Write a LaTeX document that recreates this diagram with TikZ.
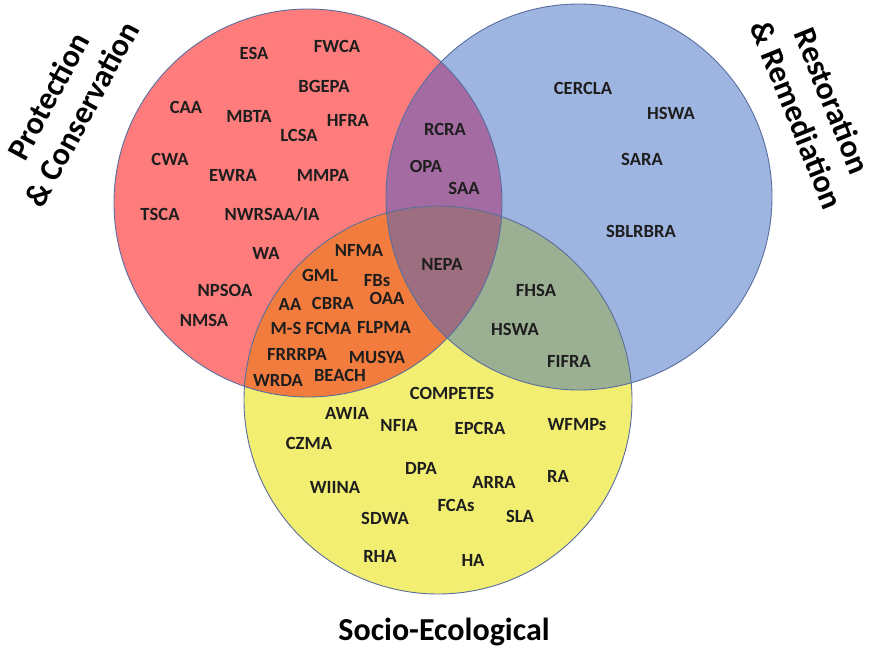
\documentclass[tikz,border=0pt]{standalone}
\usepackage{fontspec}
\setmainfont{Carlito}
\definecolor{cRed}{HTML}{FF7C7C}
\definecolor{cBlue}{HTML}{9DB5E0}
\definecolor{cYel}{HTML}{F2EE72}
\definecolor{cRB}{HTML}{A46BA2}
\definecolor{cRY}{HTML}{F27C3E}
\definecolor{cBY}{HTML}{9BAF93}
\definecolor{cRBY}{HTML}{9C6E80}
\definecolor{cEdge}{HTML}{5A6E9E}
\definecolor{cTxt}{HTML}{1E1E1E}
\begin{document}
\begin{tikzpicture}[x=1pt,y=-1pt,
  lbl/.style={font=\fontsize{18.6}{20}\selectfont\bfseries, text=cTxt, inner sep=0pt, text height=12pt, text depth=0pt},
  ttl/.style={font=\fontsize{32}{38}\selectfont\bfseries, text=black, align=center, inner sep=0pt},
  ring/.style={draw=cEdge, line width=0.9pt}]
\useasboundingbox (0,0) rectangle (871,650);
\coordinate (cR) at (308,203);
\coordinate (cB) at (579,197);
\coordinate (cY) at (438,400);
% base fills
\fill[cRed] (cR) circle[radius=194pt];
\fill[cBlue] (cB) circle[radius=193pt];
\fill[cYel] (cY) circle[radius=194pt];
% pairwise overlaps
\begin{scope}
  \clip (cR) circle[radius=194pt];
  \fill[cRB] (cB) circle[radius=193pt];
  \fill[cRY] (cY) circle[radius=194pt];
\end{scope}
\begin{scope}
  \clip (cB) circle[radius=193pt];
  \fill[cBY] (cY) circle[radius=194pt];
\end{scope}
\begin{scope}
  \clip (cR) circle[radius=194pt];
  \clip (cB) circle[radius=193pt];
  \fill[cRBY] (cY) circle[radius=194pt];
\end{scope}
% outlines
\draw[ring] (cR) circle[radius=194pt];
\draw[ring] (cB) circle[radius=193pt];
\draw[ring] (cY) circle[radius=194pt];
% titles
\node[ttl, rotate=61.6] (tPC) at (65,105) {Protection\\\& Conservation};
\node[ttl, rotate=-68] (tRR) at (815,108) {Restoration\\\& Remediation};
\node[ttl, anchor=base] (tSE) at (444,640) {Socio-Ecological};
% red only
\node[lbl] (ESA) at (254,54) {ESA};
\node[lbl] (FWCA) at (337,47) {FWCA};
\node[lbl] (BGEPA) at (324,87) {BGEPA};
\node[lbl] (CAA) at (186,108) {CAA};
\node[lbl] (MBTA) at (249,117) {MBTA};
\node[lbl] (LCSA) at (299,136) {LCSA};
\node[lbl] (HFRA) at (348,121) {HFRA};
\node[lbl] (CWA) at (170,160) {CWA};
\node[lbl] (EWRA) at (233,176) {EWRA};
\node[lbl] (MMPA) at (323,176) {MMPA};
\node[lbl] (TSCA) at (160,215) {TSCA};
\node[lbl] (NWRSAA) at (272,215) {NWRSAA/IA};
\node[lbl] (WA) at (266,253) {WA};
\node[lbl] (NPSOA) at (225,290) {NPSOA};
\node[lbl] (NMSA) at (204,320) {NMSA};
% red & blue
\node[lbl] (RCRA) at (445,130) {RCRA};
\node[lbl] (OPA) at (426,167) {OPA};
\node[lbl] (SAA) at (464,189) {SAA};
% blue only
\node[lbl] (CERCLA) at (583,89) {CERCLA};
\node[lbl] (HSWAa) at (671,114) {HSWA};
\node[lbl] (SARA) at (642,160) {SARA};
\node[lbl] (SBLRBRA) at (641,231) {SBLRBRA};
% all three
\node[lbl] (NEPA) at (442,264) {NEPA};
% blue & yellow
\node[lbl] (FHSA) at (536,290) {FHSA};
\node[lbl] (HSWAb) at (515,329) {HSWA};
\node[lbl] (FIFRA) at (569,361) {FIFRA};
% red & yellow
\node[lbl] (NFMA) at (359,251) {NFMA};
\node[lbl] (GML) at (320,275) {GML};
\node[lbl] (FBs) at (377,281) {FBs};
\node[lbl] (AA) at (290,304) {AA};
\node[lbl] (CBRA) at (333,303) {CBRA};
\node[lbl] (OAA) at (387,298) {OAA};
\node[lbl] (MSFCMA) at (311,328) {M-S FCMA};
\node[lbl] (FLPMA) at (384,327) {FLPMA};
\node[lbl] (FRRRPA) at (297,354) {FRRRPA};
\node[lbl] (MUSYA) at (377,357) {MUSYA};
\node[lbl] (WRDA) at (278,380) {WRDA};
\node[lbl] (BEACH) at (340,375) {BEACH};
% yellow only
\node[lbl] (COMPETES) at (452,393) {COMPETES};
\node[lbl] (AWIA) at (347,413) {AWIA};
\node[lbl] (NFIA) at (399,425) {NFIA};
\node[lbl] (EPCRA) at (480,428) {EPCRA};
\node[lbl] (WFMPs) at (577,424) {WFMPs};
\node[lbl] (CZMA) at (309,443) {CZMA};
\node[lbl] (DPA) at (421,468) {DPA};
\node[lbl] (RA) at (558,476) {RA};
\node[lbl] (ARRA) at (494,482) {ARRA};
\node[lbl] (WIINA) at (335,487) {WIINA};
\node[lbl] (FCAs) at (456,505) {FCAs};
\node[lbl] (SDWA) at (385,518) {SDWA};
\node[lbl] (SLA) at (520,516) {SLA};
\node[lbl] (RHA) at (380,556) {RHA};
\node[lbl] (HA) at (473,560) {HA};
\end{tikzpicture}
\end{document}
